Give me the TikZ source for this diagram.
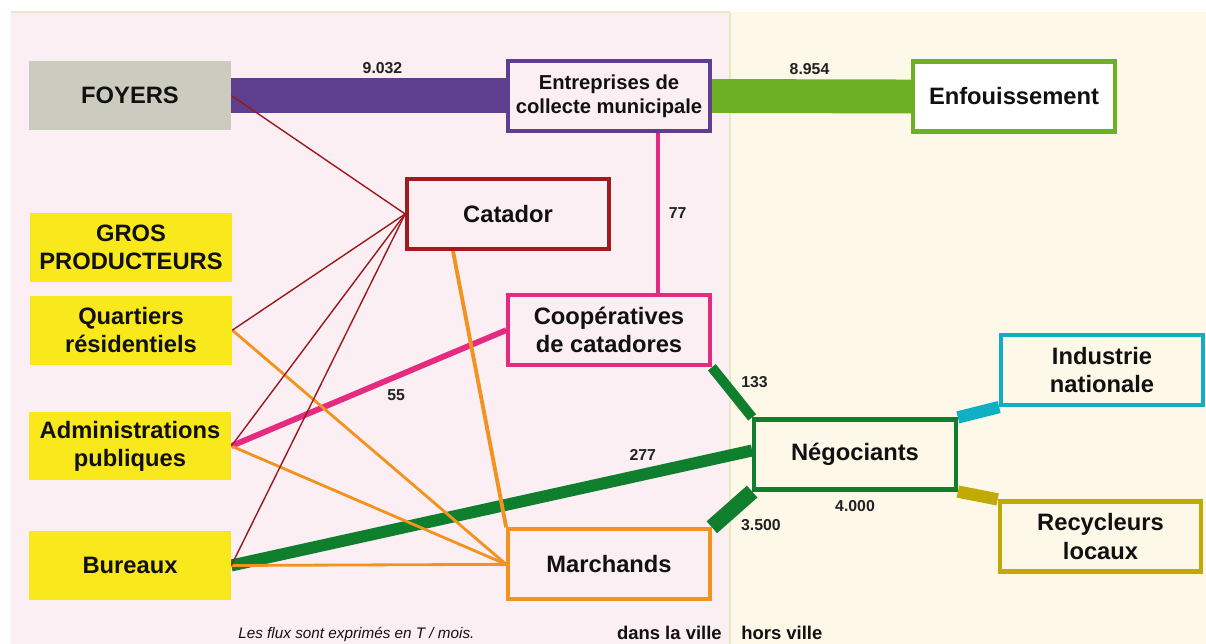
\documentclass[tikz,border=0pt]{standalone}
\usepackage{fontspec}
\setmainfont{Liberation Sans}
\usetikzlibrary{positioning, calc, backgrounds}
\definecolor{pinkbg}{HTML}{FBEFF4}
\definecolor{beigebg}{HTML}{FDF8E8}
\definecolor{zonerule}{HTML}{E6E9C4}
\definecolor{srcgray}{HTML}{CBCBC0}
\definecolor{srcyellow}{HTML}{F8E81C}
\definecolor{entpurple}{HTML}{5E3F8F}
\definecolor{enfgreen}{HTML}{6DB024}
\definecolor{catred}{HTML}{A21A1E}
\definecolor{coopink}{HTML}{E42B80}
\definecolor{marorange}{HTML}{F29320}
\definecolor{neggreen}{HTML}{0F7F2D}
\definecolor{indcyan}{HTML}{0FAFC4}
\definecolor{recolive}{HTML}{C0AA06}
\definecolor{inktext}{HTML}{111111}
\definecolor{lbltext}{HTML}{222222}
\tikzset{
  srcbox/.style={
    rectangle, minimum width=4.04cm, minimum height=1.38cm,
    align=center, font=\fontsize{13.5}{16}\selectfont\bfseries,
    fill=#1, text=inktext, inner sep=2pt
  },
  actbox/.style={
    rectangle, minimum width=4.03cm, minimum height=1.4cm,
    align=center, font=\fontsize{13.5}{16}\selectfont\bfseries,
    draw=#1, line width=2.4pt, fill=pinkbg, text=inktext, inner sep=2pt
  },
  band/.style={line width=#1, line cap=butt},
  catline/.style={line width=0.8pt, color=catred!95!black},
  marline/.style={line width=1.6pt, color=marorange},
  zoneline/.style={line width=0.9pt, color=zonerule},
  flowlbl/.style={font=\fontsize{9}{10}\selectfont\bfseries, text=lbltext, inner sep=1pt},
  zonelbl/.style={font=\fontsize{10.5}{12}\selectfont\bfseries, text=inktext, inner sep=0pt},
  notelbl/.style={font=\fontsize{8.7}{10}\selectfont\itshape, text=inktext, inner sep=0pt},
}
\begin{document}
\begin{tikzpicture}[x=0.02cm, y=-0.02cm]
  \useasboundingbox (0,0) rectangle (1206,644);
  % sources
  \node[srcbox=srcgray] (foy) at (130,95.5) {FOYERS};
  \node[srcbox=srcyellow] (gro) at (131,247.5) {GROS\\PRODUCTEURS};
  \node[srcbox=srcyellow, below=0.26cm of gro] (qua) {Quartiers\\résidentiels};
  \node[srcbox=srcyellow] (adm) at (130,446) {Administrations\\publiques};
  \node[srcbox=srcyellow] (bur) at (130,565.5) {Bureaux};
  % acteurs
  \node[actbox=entpurple, font=\fontsize{11.5}{13.6}\selectfont\bfseries]
       (ent) at (609,96) {Entreprises de\\collecte municipale};
  \node[actbox=enfgreen, fill=white] (enf) at (1014,96.5) {Enfouissement};
  \node[actbox=catred] (cat) at (508,214) {Catador};
  \node[actbox=coopink, below=3.2cm of ent] (coop) {Coopératives\\de catadores};
  \node[actbox=marorange, below=3.2cm of coop] (mar) {Marchands};
  \node[actbox=neggreen, fill=beigebg] (neg) at (855,454.5) {Négociants};
  \node[actbox=indcyan, fill=beigebg] (ind) at (1102,370) {Industrie\\nationale};
  \node[actbox=recolive, fill=beigebg] (rec) at (1100.5,536.5) {Recycleurs\\locaux};
  % legende
  \node[notelbl, anchor=base west] (note) at (238,638) {Les flux sont exprimés en T / mois.};
  \node[zonelbl, anchor=base east] (inside) at (722,639) {dans la ville};
  \node[zonelbl, anchor=base west] (outside) at (741,639) {hors ville};
  \node[flowlbl, below=4pt of neg] (l4000) {4.000};
  \begin{scope}[on background layer]
    % zones
    \fill[pinkbg] (11,12) rectangle (730,644);
    \fill[beigebg] (730,12) rectangle (1206,644);
    \draw[zoneline] (11,12) -- (730,12);
    \draw[zoneline] (730,12) -- (730,644);
    % flux principaux
    \draw[band=19.8pt, entpurple] (foy.east) -- (foy.east -| ent.west)
         node[flowlbl, pos=0.55, yshift=15.5pt] (l9032) {9.032};
    \draw[band=19.3pt, enfgreen] (ent.east) -- (enf.west)
         node[flowlbl, pos=0.49, yshift=15.5pt] (l8954) {8.954};
    \draw[band=6.8pt, neggreen] (bur.east) -- ($(neg.west)+(0,-4)$)
         node[flowlbl, pos=0.79, yshift=11pt] (l277) {277};
    \draw[band=5.7pt, neggreen] (coop.south east) -- (neg.north west)
         node[flowlbl, pos=0.3, right=6pt] (l133) {133};
    \draw[band=9pt, neggreen] (mar.north east) -- (neg.south west)
         node[flowlbl, pos=0.05, right=10pt] (l3500) {3.500};
    \draw[band=7pt, indcyan] (neg.north east) -- (ind.south west);
    \draw[band=7pt, recolive] (neg.south east) -- (rec.north west);
    % cooperatives
    \draw[band=2.3pt, coopink] ($(ent.south)+(49,0)$) -- ($(coop.north)+(49,0)$)
         node[flowlbl, midway, right=4pt] (l77) {77};
    \draw[band=3.3pt, coopink] (adm.east) -- (coop.west)
         node[flowlbl, pos=0.6, yshift=-10.5pt] (l55) {55};
    % marchands
    \draw[marline] (qua.east) -- (mar.west);
    \draw[marline] (adm.east) -- (mar.west);
    \draw[marline] (bur.east) -- (mar.west);
    \draw[marline, line width=2.2pt] ($(cat.south)+(-55,0)$) -- (mar.north west);
    % catador
    \draw[catline] (foy.east) -- (cat.west);
    \draw[catline] (qua.east) -- (cat.west);
    \draw[catline] (adm.east) -- (cat.west);
    \draw[catline] (bur.east) -- (cat.west);
  \end{scope}
\end{tikzpicture}
\end{document}
